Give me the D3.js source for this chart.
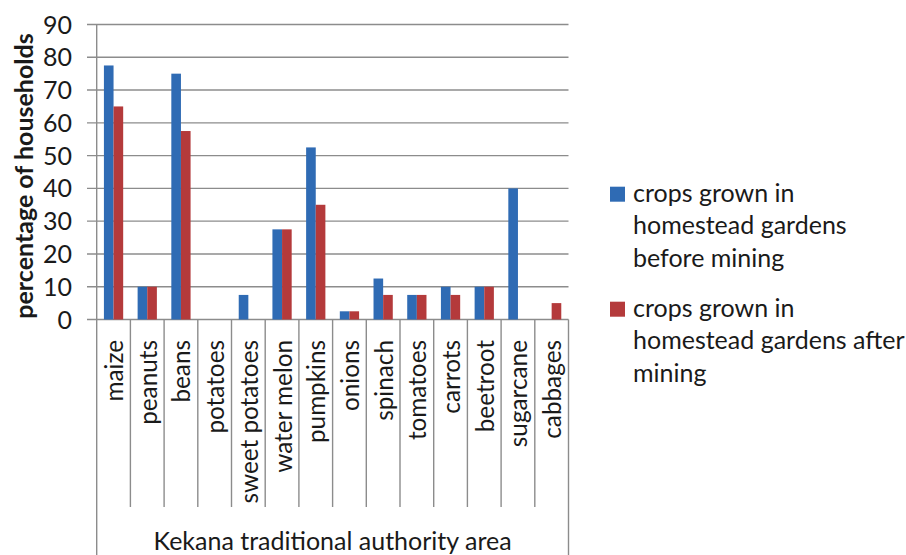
<!DOCTYPE html>
<html><head><meta charset="utf-8">
<script src="https://cdn.jsdelivr.net/npm/d3@7"></script>
<style>
body{margin:0;background:#fff;}
text{font-family:Lato,"Open Sans",sans-serif;fill:#1a1a1a;}
</style></head>
<body><svg id="c" width="906" height="555"></svg>
<script>
const categories = ["maize","peanuts","beans","potatoes","sweet potatoes","water melon","pumpkins","onions","spinach","tomatoes","carrots","beetroot","sugarcane","cabbages"];
const beforeMining = [77.5,10,75,0,7.5,27.5,52.5,2.5,12.5,7.5,10,10,40,0];
const afterMining  = [65,10,57.5,0,0,27.5,35,2.5,7.5,7.5,7.5,10,0,5];
const seriesNames = ["before","after"];
const legendLines = [["crops grown in","homestead gardens","before mining"],["crops grown in","homestead gardens after","mining"]];
const yTicks = [0,10,20,30,40,50,60,70,80,90];
const yTitle = "percentage of households";
const xTitle = "Kekana traditional authority area";
const colors = ["#2f6bb4","#b43a3b"];

const svg = d3.select("#c");
const L = 96.7, R = 568.5, T = 24.5, B = 319.5;
const x = d3.scaleBand().domain(categories).range([L,R]).padding(0);
const xs = d3.scaleBand().domain(seriesNames).range([0,x.bandwidth()]).paddingInner(0).paddingOuter(0.75);
const y = d3.scaleLinear().domain([0,90]).range([B,T]);

// gridlines
svg.append("g").selectAll("line").data(yTicks).join("line")
  .attr("x1",87).attr("x2",R).attr("y1",d=>y(d)).attr("y2",d=>y(d))
  .attr("stroke","#8c8c8c").attr("stroke-width",1.4);
// y labels
svg.append("g").selectAll("text").data(yTicks).join("text")
  .attr("x",72).attr("y",d=>y(d)).attr("dy","0.36em").attr("text-anchor","end")
  .attr("font-size",25).text(d=>d);
// vertical axis & dividers
const bounds = categories.map(c=>x(c)).concat([R]);
svg.append("g").selectAll("line").data(bounds).join("line")
  .attr("x1",d=>d).attr("x2",d=>d)
  .attr("y1",(d,i)=> i===0 ? T : B)
  .attr("y2",(d,i)=> (i===0||i===bounds.length-1) ? 555 : 507)
  .attr("stroke","#8c8c8c").attr("stroke-width",1.4);
// bars
const data = categories.map((c,i)=>({c, v:[beforeMining[i],afterMining[i]]}));
const g = svg.append("g").selectAll("g").data(data).join("g").attr("transform",d=>`translate(${x(d.c)},0)`);
g.selectAll("rect").data(d=>d.v.map((v,k)=>({k,v}))).join("rect")
  .attr("x",d=>xs(seriesNames[d.k])).attr("width",xs.bandwidth())
  .attr("y",d=>y(d.v)).attr("height",d=>B-y(d.v))
  .attr("fill",d=>colors[d.k]);
// category labels
svg.append("g").selectAll("text").data(categories).join("text")
  .attr("transform",d=>`translate(${x(d)+x.bandwidth()/2+9.5},340) rotate(-90)`)
  .attr("text-anchor","end").attr("font-size",24.3).text(d=>d);
// titles
svg.append("text").attr("transform",`translate(33,${(T+B)/2+4}) rotate(-90)`)
  .attr("text-anchor","middle").attr("font-size",25).attr("font-weight","bold").text(yTitle);
svg.append("text").attr("x",(L+R)/2).attr("y",550).attr("text-anchor","middle")
  .attr("font-size",25).text(xTitle);
// legend
const lg = svg.append("g").selectAll("g").data(legendLines).join("g")
  .attr("transform",(d,i)=>`translate(610,${186.7 + i*115})`);
lg.append("rect").attr("width",15).attr("height",15).attr("fill",(d,i)=>colors[i]);
lg.selectAll("text").data(d=>d).join("text")
  .attr("x",23).attr("y",(d,j)=>15 + j*32.5).attr("font-size",25).text(d=>d);
</script></body></html>
